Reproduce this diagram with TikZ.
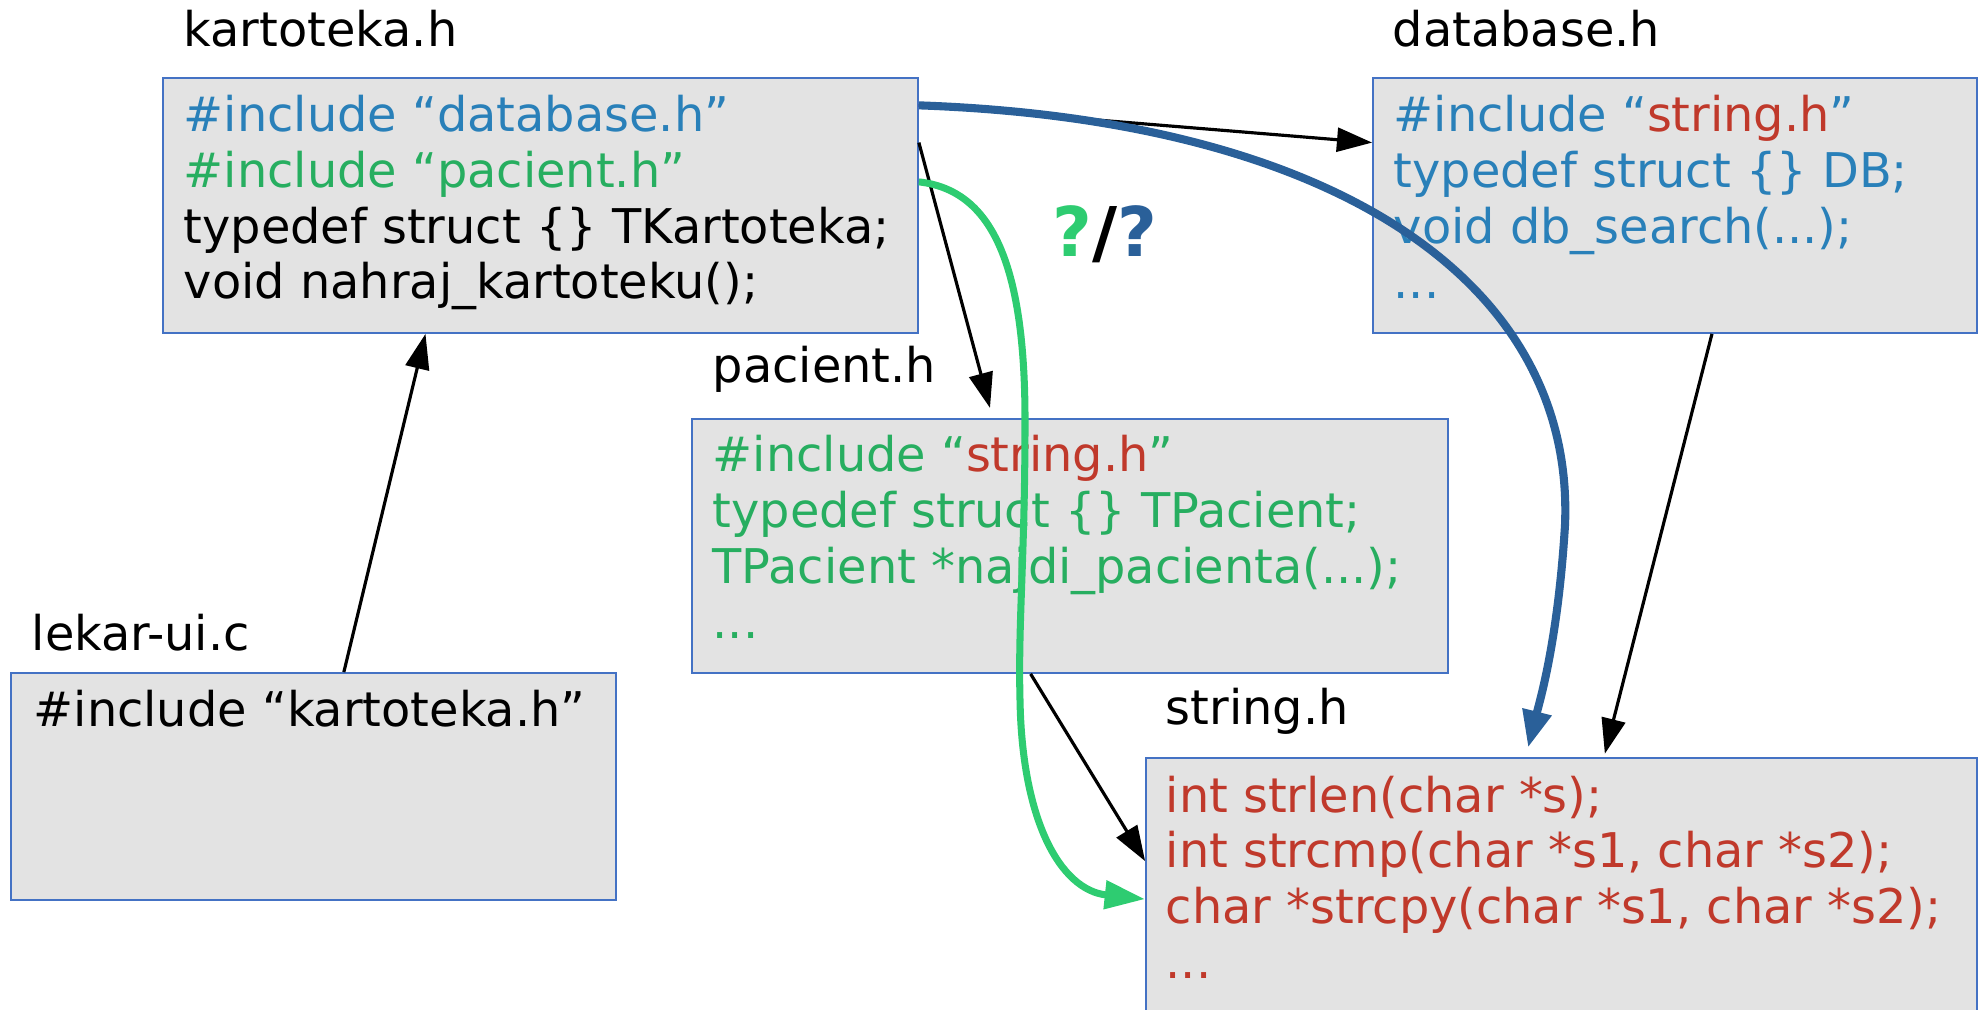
\documentclass[tikz,border=0pt]{standalone}
\usepackage{fontspec}
\setmainfont{DejaVu Sans}
\usetikzlibrary{arrows.meta,fit,calc}
\definecolor{txtblue}{HTML}{2980B9}
\definecolor{txtgreen}{HTML}{27AE60}
\definecolor{txtred}{HTML}{C0392B}
\definecolor{linkblue}{HTML}{2A6099}
\definecolor{linkgreen}{HTML}{2ECC71}
\definecolor{boxfill}{HTML}{E3E3E3}
\definecolor{boxline}{HTML}{4472C4}
\tikzset{
  filebox/.style={draw=boxline, line width=0.5pt, fill=boxfill, inner sep=0pt},
  code/.style={anchor=base west, inner sep=0pt, font=\fontsize{13.6}{15.8}\selectfont},
  fname/.style={anchor=base west, inner sep=0pt, font=\fontsize{13.6}{15.8}\selectfont},
  dep/.style={line width=0.9pt, -{Triangle[length=10pt,width=6.8pt]}},
  bluelink/.style={draw=linkblue, line width=2.3pt, -{Triangle[length=10.5pt,width=8pt]}},
  greenlink/.style={draw=linkgreen, line width=2pt, -{Triangle[length=11.5pt,width=7.8pt]}},
}
\begin{document}
\begin{tikzpicture}[x=0.01cm,y=-0.01cm]
\useasboundingbox (0,0) rectangle (1985,1010);

% header files and the source file
\node[filebox, fit={(163,78) (918,333)}] (kart) {};
\node[filebox, fit={(1373,78) (1977,333)}] (db) {};
\node[filebox, fit={(692,419) (1448,673)}] (pac) {};
\node[filebox, fit={(11,673) (616,900)}] (lekar) {};
\node[filebox, fit={(1146,758) (1977,1016)}] (str) {};

% file names
\node[fname] (kartname) at (183,47) {kartoteka.h};
\node[fname] (dbname) at (1392,47) {database.h};
\node[fname] (pacname) at (712,383) {pacient.h};
\node[fname] (lekarname) at (31,651) {lekar-ui.c};
\node[fname] (strname) at (1165,725) {string.h};

% file contents
\node[code] (kartcode) at (183,132) {\vtop{%
  \hbox{\color{txtblue}\#include “database.h”}
  \hbox{\color{txtgreen}\#include “pacient.h”}
  \hbox{typedef struct \{\} TKartoteka;}
  \hbox{void nahraj\_kartoteku();}}};
\node[code] (dbcode) at (1393,132) {\vtop{%
  \hbox{\color{txtblue}\#include “{\color{txtred}string.h}”}
  \hbox{\color{txtblue}typedef struct \{\} DB;}
  \hbox{\color{txtblue}void db\_search(...);}
  \hbox{\color{txtblue}...}}};
\node[code] (paccode) at (712,472) {\vtop{%
  \hbox{\color{txtgreen}\#include “{\color{txtred}string.h}”}
  \hbox{\color{txtgreen}typedef struct \{\} TPacient;}
  \hbox{\color{txtgreen}TPacient *najdi\_pacienta(...);}
  \hbox{\color{txtgreen}...}}};
\node[code] (lekarcode) at (33,726) {\#include “kartoteka.h”};
\node[code] (strcode) at (1165,812) {\vtop{%
  \hbox{\color{txtred}int strlen(char *s);}
  \hbox{\color{txtred}int strcmp(char *s1, char *s2);}
  \hbox{\color{txtred}char *strcpy(char *s1, char *s2);}
  \hbox{\color{txtred}...}}};

% question label
\node[anchor=base west, inner sep=0pt, font=\bfseries\fontsize{19.5}{22}\selectfont]
  (question) at (1052,257) {{\color{linkgreen}?}/{\color{linkblue}?}};

% include dependencies
\draw[dep] ($(lekar.north west)!0.55!(lekar.north east)$) -- ($(kart.south west)!0.348!(kart.south east)$);
\draw[dep] ($(kart.north east)!0.11!(kart.south east)$) -- ($(db.north west)!0.255!(db.south west)$);
\draw[dep, shorten >=3pt] ($(kart.north east)!0.255!(kart.south east)$) -- ($(pac.north west)!0.398!(pac.north east)$);
\draw[dep] ($(pac.south west)!0.448!(pac.south east)$) -- ($(str.north west)+(0,104)$);
\draw[dep, shorten >=1pt] ($(db.south west)!0.561!(db.south east)$) -- ($(str.north west)!0.551!(str.north east)$);

% transitive include paths
\draw[bluelink, shorten >=2.8pt] ($(kart.north east)!0.11!(kart.south east)$)
  .. controls (1340,120) and (1575,285) .. (1565,525)
  .. controls (1558,640) and (1540,700) .. ($(str.north west)!0.457!(str.north east)$);
\draw[greenlink] ($(kart.north east)!0.408!(kart.south east)$)
  .. controls (990,190) and (1025,260) .. (1025,420)
  .. controls (1025,560) and (1018,620) .. (1020,700)
  .. controls (1022,820) and (1060,890) .. ($(str.north west)+(0,142)$);
\end{tikzpicture}
\end{document}
